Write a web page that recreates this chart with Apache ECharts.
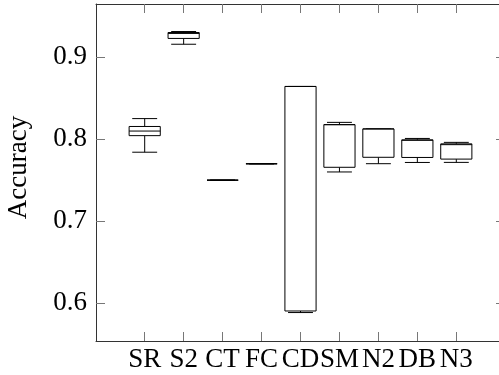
<!DOCTYPE html>
<html>
<head>
<meta charset="utf-8">
<script src="https://cdn.jsdelivr.net/npm/echarts@6/dist/echarts.min.js"></script>
<style>html,body{margin:0;padding:0;background:#fff}#c{width:499px;height:375px}</style>
</head>
<body>
<div id="c"></div>
<script>
// Categories and box statistics: [min, Q1, median, Q3, max]
var categories = ['SR','S2','CT','FC','CD','SM','N2','DB','N3'];
var positions = [1,2,3,4,5,6,7,8,9];
var minVals    = [0.7843, 0.9160, 0.7502, 0.7702, 0.5887, 0.7602, 0.7703, 0.7718, 0.7719];
var q1Vals     = [0.8045, 0.9231, 0.7502, 0.7702, 0.5906, 0.7659, 0.7781, 0.7779, 0.7759];
var medianVals = [0.8101, 0.9292, 0.7502, 0.7702, 0.8645, 0.8179, 0.8127, 0.7988, 0.7935];
var q3Vals     = [0.8157, 0.9303, 0.7502, 0.7702, 0.8645, 0.8179, 0.8127, 0.7994, 0.7945];
var maxVals    = [0.8253, 0.9315, 0.7502, 0.7702, 0.8645, 0.8207, 0.8127, 0.8011, 0.7963];
var yTicks = [0.6, 0.7, 0.8, 0.9];

var data = positions.map(function(p, i){
  return [p, minVals[i], q1Vals[i], medianVals[i], q3Vals[i], maxVals[i]];
});

var FONT = '"Liberation Serif", "DejaVu Serif", serif';
var FS = 27;
var BOX_HALF = 0.4, CAP_HALF = 0.32;

function renderItem(params, api){
  var x = api.value(0);
  var vMin = api.value(1), vQ1 = api.value(2), vMed = api.value(3), vQ3 = api.value(4), vMax = api.value(5);
  var l = api.coord([x - BOX_HALF, vQ1])[0];
  var r = api.coord([x + BOX_HALF, vQ1])[0];
  var cl = api.coord([x - CAP_HALF, vQ1])[0];
  var cr = api.coord([x + CAP_HALF, vQ1])[0];
  var cx = api.coord([x, vQ1])[0];
  var yMin = api.coord([x, vMin])[1];
  var yQ1 = api.coord([x, vQ1])[1];
  var yMed = api.coord([x, vMed])[1];
  var yQ3 = api.coord([x, vQ3])[1];
  var yMax = api.coord([x, vMax])[1];
  var st = {stroke:'#000', lineWidth:1, fill:null};
  return {
    type:'group',
    children:[
      {type:'line', shape:{x1:cx,y1:yQ1,x2:cx,y2:yMin}, style:st},
      {type:'line', shape:{x1:cx,y1:yQ3,x2:cx,y2:yMax}, style:st},
      {type:'line', shape:{x1:cl,y1:yMin,x2:cr,y2:yMin}, style:st},
      {type:'line', shape:{x1:cl,y1:yMax,x2:cr,y2:yMax}, style:st},
      {type:'rect', shape:{x:l,y:yQ3,width:r-l,height:Math.max(yQ1-yQ3,0.01)}, style:{stroke:'#000',lineWidth:1,fill:'#fff'}},
      {type:'line', shape:{x1:l,y1:yMed,x2:r,y2:yMed}, style:st}
    ]
  };
}

var chart = echarts.init(document.getElementById('c'), null, {renderer:'canvas'});
var tickStyle = {show:true, inside:true, length:9, lineStyle:{color:'#777', width:1}};
chart.setOption({
  animation:false,
  backgroundColor:'#fff',
  grid:{left:96, top:4, width:409, height:337, containLabel:false, outerBoundsMode:'none'},
  xAxis:[{
    type:'value', min:-0.25, max:10.25, position:'bottom',
    axisLine:{show:true, onZero:false, lineStyle:{color:'#333', width:1}},
    axisTick:Object.assign({customValues:positions}, tickStyle),
    axisLabel:{customValues:positions, margin:5, color:'#000', fontFamily:FONT, fontSize:FS,
      formatter:function(v){ var i = positions.indexOf(Math.round(v)); return i>=0 ? categories[i] : ''; }},
    splitLine:{show:false}
  },{
    type:'value', min:-0.25, max:10.25, position:'top',
    axisLine:{show:true, onZero:false, lineStyle:{color:'#333', width:1}},
    axisTick:Object.assign({customValues:positions}, tickStyle),
    axisLabel:{show:false},
    splitLine:{show:false}
  }],
  yAxis:[{
    type:'value', min:0.554, max:0.9651, position:'left',
    name:'Accuracy', nameLocation:'middle', nameGap:64,
    nameTextStyle:{color:'#000', fontFamily:FONT, fontSize:FS, padding:[0,0,0,10]},
    axisLine:{show:true, onZero:false, lineStyle:{color:'#333', width:1}},
    axisTick:Object.assign({customValues:yTicks}, tickStyle),
    axisLabel:{customValues:yTicks, margin:9, color:'#000', fontFamily:FONT, fontSize:FS,
      formatter:function(v){ return v.toFixed(1); }},
    splitLine:{show:false}
  },{
    type:'value', min:0.554, max:0.9651, position:'right',
    axisLine:{show:true, onZero:false, lineStyle:{color:'#333', width:1}},
    axisTick:Object.assign({customValues:yTicks}, tickStyle),
    axisLabel:{show:false},
    splitLine:{show:false}
  }],
  series:[{
    type:'custom', xAxisIndex:0, yAxisIndex:0,
    renderItem:renderItem,
    encode:{x:0, y:[1,2,3,4,5]},
    data:data
  }]
});
</script>
</body>
</html>
